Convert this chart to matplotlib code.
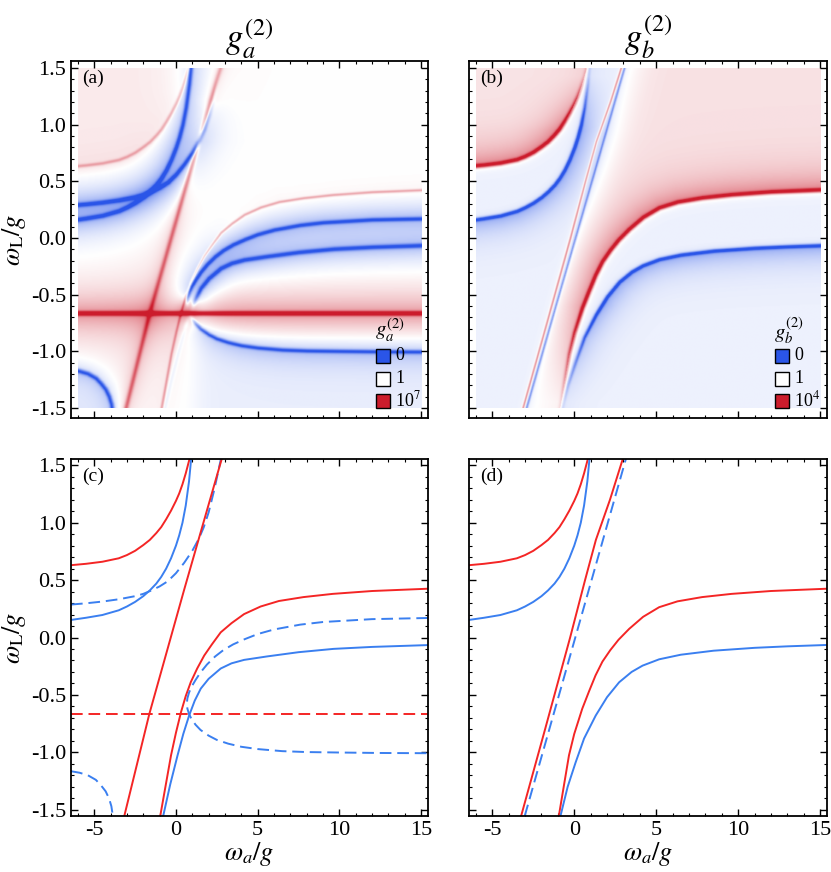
import numpy as np
import matplotlib
matplotlib.use('Agg')
import matplotlib.pyplot as plt
from matplotlib.colors import LinearSegmentedColormap
from matplotlib.patches import Rectangle
from matplotlib.ticker import MultipleLocator

plt.rcParams['font.family'] = ['Liberation Serif', 'DejaVu Serif']
plt.rcParams['mathtext.fontset'] = 'stix'

# ---- curves ----
red_ul_x = [-6.42, -5.5, -4.5, -3.5, -3.0, -2.5, -2.0, -1.6, -1.2, -0.9, -0.6, -0.3, 0.0, 0.2, 0.4, 0.6, 0.83]
red_ul_y = [0.630, 0.642, 0.660, 0.690, 0.718, 0.755, 0.805, 0.85, 0.91, 0.962, 1.03, 1.105, 1.19, 1.255, 1.335, 1.43, 1.555]

blue_ul_x = [-6.42, -5.5, -4.5, -3.5, -3.0, -2.5, -2.0, -1.6, -1.2, -0.9, -0.6, -0.3, 0.0, 0.2, 0.4, 0.6, 0.8, 0.93]
blue_ul_y = [0.153, 0.172, 0.196, 0.237, 0.27, 0.31, 0.36, 0.41, 0.47, 0.528, 0.6, 0.69, 0.80, 0.89, 1.0, 1.15, 1.36, 1.555]

bdash_ul_x = [-6.42, -5.5, -4.5, -3.5, -2.5, -2.0, -1.5, -1.0, -0.5, 0.0, 0.5, 1.0, 1.4, 1.7, 2.0, 2.35, 2.75]
bdash_ul_y = [0.287, 0.298, 0.313, 0.333, 0.36, 0.38, 0.41, 0.445, 0.49, 0.56, 0.65, 0.755, 0.86, 0.96, 1.09, 1.29, 1.555]

red_line_x = [-3.16, -1.63, 0.51, 2.80]
red_line_y = [-1.555, -0.667, 0.42, 1.555]

red_h_y = -0.667

red_lr_x = [-0.96, -0.63, -0.30, 0.0, 0.31, 0.6, 0.91, 1.3, 1.73, 2.2, 2.74, 3.4, 4.17, 5.18, 6.3, 7.8, 9.59, 12.0, 15.42]
red_lr_y = [-1.555, -1.29, -1.026, -0.83, -0.65, -0.51, -0.388, -0.27, -0.157, -0.06, 0.045, 0.125, 0.204, 0.27, 0.318, 0.352, 0.38, 0.405, 0.425]

blue_lr_x = [-0.78, -0.35, 0.10, 0.45, 0.81, 1.15, 1.52, 2.0, 2.74, 3.4, 4.17, 5.57, 7.5, 9.65, 12.0, 15.42]
blue_lr_y = [-1.555, -1.28, -1.026, -0.84, -0.678, -0.55, -0.445, -0.36, -0.27, -0.225, -0.195, -0.165, -0.128, -0.099, -0.082, -0.066]

# dashed blue branch on the right, upper part then lower part (cusp near 0.67, -0.57)
bdash_lr_x = [15.42, 12.0, 9.0, 7.6, 6.0, 5.0, 4.2, 3.5, 2.9, 2.4, 1.9, 1.5, 1.2, 0.95, 0.8, 0.7, 0.67,
              0.7, 0.8, 0.95, 1.2, 1.5, 2.0, 2.5, 3.2, 4.0, 5.0, 6.5, 8.0, 10.0, 12.5, 15.42]
bdash_lr_y = [0.17, 0.16, 0.135, 0.112, 0.07, 0.03, -0.015, -0.06, -0.11, -0.165, -0.235, -0.305, -0.37, -0.43, -0.48, -0.53, -0.57,
              -0.62, -0.665, -0.71, -0.76, -0.805, -0.855, -0.892, -0.925, -0.952, -0.972, -0.99, -0.998, -1.002, -1.006, -1.008]
cusp = 16

bdash_ll_x = [-6.42, -5.9, -5.39, -4.9, -4.59, -4.3, -4.09, -3.95, -3.86]
bdash_ll_y = [-1.165, -1.178, -1.2, -1.24, -1.287, -1.34, -1.403, -1.47, -1.555]

# ---- curves ----
red_line_d_x = [-3.24, -1.78, -0.25, 0.66, 1.32, 2.18, 2.96]
red_line_d_y = [-1.555, -0.8, 0.0, 0.5, 0.85, 1.2, 1.555]

bdash_d_x = [-3.02, 3.15]
bdash_d_y = [-1.555, 1.555]

red_lr_d_x = [-0.94, -0.63, -0.32, 0.0, 0.49, 0.9, 1.3, 1.72, 2.2, 2.7, 3.35, 4.2, 5.18, 6.3, 7.8, 9.6, 12.0, 15.42]
red_lr_d_y = [-1.555, -1.29, -1.026, -0.84, -0.62, -0.47, -0.33, -0.21, -0.11, -0.02, 0.075, 0.18, 0.264, 0.315, 0.352, 0.38, 0.405, 0.425]

blue_lr_d_x = [-0.84, -0.4, 0.08, 0.6, 1.31, 2.0, 2.74, 3.5, 4.17, 5.18, 6.5, 8.5, 11.0, 13.0, 15.42]
blue_lr_d_y = [-1.555, -1.3, -1.09, -0.88, -0.68, -0.52, -0.39, -0.3, -0.245, -0.19, -0.15, -0.115, -0.09, -0.077, -0.065]

# ---- grid for the density plots ----
wa = np.linspace(-6, 15, 631)
wl = np.linspace(-1.5, 1.5, 451)
WA, WL = np.meshgrid(wa, wl)


def dist(xs, ys):
    # distance to polyline, x scaled so that both axes look alike
    xs = np.asarray(xs) / 7.0
    ys = np.asarray(ys)
    px, py = WA / 7.0, WL
    d = np.full(WA.shape, np.inf)
    for i in range(len(xs) - 1):
        vx, vy = xs[i + 1] - xs[i], ys[i + 1] - ys[i]
        t = ((px - xs[i]) * vx + (py - ys[i]) * vy) / (vx * vx + vy * vy)
        t = np.clip(t, 0, 1)
        d = np.minimum(d, np.hypot(px - xs[i] - t * vx, py - ys[i] - t * vy))
    return d


def above(xs, ys):
    return WL > np.interp(WA, xs, ys)


def right_of(xs, ys):
    return WA > np.interp(WL, ys, xs)


def peak(d, w):
    return np.exp(-(d / w) ** 2)


def tail(d, w):
    return np.exp(-d / w)


def sig(z):
    return 1 / (1 + np.exp(-z))


# panel (a)
d_h = np.abs(WL - red_h_y)
d_rl = dist(red_line_x, red_line_y)
d_rul = dist(red_ul_x, red_ul_y)
d_rlr = dist(red_lr_x, red_lr_y)
d_bul = dist(blue_ul_x, blue_ul_y)
d_bdul = dist(bdash_ul_x, bdash_ul_y)
d_blr = dist(blue_lr_x, blue_lr_y)
d_bdlr = dist(bdash_lr_x, bdash_lr_y)
d_bdll = dist(bdash_ll_x, bdash_ll_y)
r_cusp = np.hypot((WA - bdash_lr_x[cusp]) / 7.0, WL - bdash_lr_y[cusp] + 0.08)

near_cusp = 1 - np.exp(-(r_cusp / 0.12) ** 2)
fade_blr = np.clip((WL + 0.85) / 0.3, 0.15, 1) * near_cusp
fade_bdul = np.clip((1.35 - WL) / 0.5, 0.25, 1)
below_low = (WL < np.interp(WA, bdash_lr_x[cusp:], bdash_lr_y[cusp:])) * sig((WA - 1.2) / 0.4)
below_ll = ~above(bdash_ll_x, bdash_ll_y) & (WA < -3.86)
pink_ul = sig((WL - np.interp(WA, red_ul_x, red_ul_y)) / 0.04) * (WA < 0.83)

field_a = (0.95 * peak(d_h, 0.02) + 0.5 * tail(d_h, 0.18)
           + 0.42 * peak(d_rl, 0.02) + 0.2 * tail(d_rl, 0.05) + 0.1 * tail(d_rl, 0.2)
           + 0.3 * peak(d_rul, 0.015) + 0.12 * tail(d_rul, 0.1) + 0.09 * pink_ul
           + 0.35 * peak(d_rlr, 0.012) + 0.1 * tail(d_rlr, 0.1)
           - 0.7 * peak(d_bul, 0.02) - 0.4 * tail(d_bul, 0.12)
           - fade_bdul * (0.7 * peak(d_bdul, 0.02) + 0.4 * tail(d_bdul, 0.12))
           - fade_blr * (0.7 * peak(d_blr, 0.02) + 0.4 * tail(d_blr, 0.12))
           - near_cusp * (0.7 * peak(d_bdlr, 0.018) + 0.4 * tail(d_bdlr, 0.12))
           - 0.1 * below_low
           - 0.7 * peak(d_bdll, 0.02) - 0.3 * tail(d_bdll, 0.08) - 0.15 * below_ll)
field_a = np.clip(field_a, -1, 1)

# panel (b)
e_rul = dist(red_ul_x, red_ul_y)
e_bul = dist(blue_ul_x, blue_ul_y)
e_rlr = dist(red_lr_d_x, red_lr_d_y)
e_blr = dist(blue_lr_d_x, blue_lr_d_y)
e_rl = dist(red_line_d_x, red_line_d_y)
e_bd = dist(bdash_d_x, bdash_d_y)

w_ul = np.clip((1.55 - WL) / 0.6, 0.2, 1)
w_lr = np.clip((WL + 1.6) / 1.0, 0.15, 1)
up_ul = above(red_ul_x, red_ul_y)
lo_ul = ~above(blue_ul_x, blue_ul_y)
side = sig((WA - np.interp(WL, bdash_d_y, bdash_d_x) - 1.0) / 0.5) * sig((WL + 0.4) / 0.2)
up_lr = above(red_lr_d_x, red_lr_d_y) & right_of(bdash_d_x, bdash_d_y)
lo_lr = ~above(blue_lr_d_x, blue_lr_d_y)

field_b = (w_ul * 0.9 * peak(e_rul, 0.018)
           + np.where(up_ul, w_ul * 0.45 * tail(e_rul, 0.15) + 0.12, w_ul * 0.3 * tail(e_rul, 0.025))
           - w_ul * 0.85 * peak(e_bul, 0.016)
           - np.where(lo_ul, w_ul * 0.45 * tail(e_bul, 0.12), w_ul * 0.3 * tail(e_bul, 0.02))
           + w_lr * 0.9 * peak(e_rlr, 0.018)
           + np.where(up_lr, w_lr * 0.45 * tail(e_rlr, 0.15) + 0.13 * side, w_lr * 0.3 * tail(e_rlr, 0.025))
           - w_lr * 0.85 * peak(e_blr, 0.016)
           - np.where(lo_lr, w_lr * 0.45 * tail(e_blr, 0.12), w_lr * 0.3 * tail(e_blr, 0.02))
           + 0.5 * peak(e_rl, 0.01) + 0.12 * tail(e_rl, 0.03)
           - 0.45 * peak(e_bd, 0.01) - 0.15 * tail(e_bd, 0.04)
           - 0.08 * (~up_ul & ~up_lr))
field_b = np.clip(field_b, -1, 1)

cmap = LinearSegmentedColormap.from_list('bwr_m', [(0, '#2a55e8'), (0.5, '#ffffff'), (1, '#cc1c2c')])

fig = plt.figure(figsize=(8.31, 8.72), dpi=100)
W, H = 831.0, 872.0
ax_a = fig.add_axes([71 / W, 1 - 418 / H, 357 / W, 357 / H])
ax_b = fig.add_axes([469 / W, 1 - 418 / H, 358 / W, 357 / H])
ax_c = fig.add_axes([71 / W, 1 - 816 / H, 357 / W, 357 / H])
ax_d = fig.add_axes([469 / W, 1 - 816 / H, 358 / W, 357 / H])

ax_a.imshow(field_a, extent=[-6, 15, -1.5, 1.5], origin='lower', aspect='auto',
            cmap=cmap, vmin=-1, vmax=1, interpolation='bilinear')
ax_b.imshow(field_b, extent=[-6, 15, -1.5, 1.5], origin='lower', aspect='auto',
            cmap=cmap, vmin=-1, vmax=1, interpolation='bilinear')

red = '#f42525'
blue = '#3a7ff0'
lw = 1.4
dash = (0, (6, 3))

ax_c.plot(red_ul_x, red_ul_y, color=red, lw=lw)
ax_c.plot(blue_ul_x, blue_ul_y, color=blue, lw=lw)
ax_c.plot(bdash_ul_x, bdash_ul_y, color=blue, lw=lw, linestyle=dash)
ax_c.plot(red_line_x, red_line_y, color=red, lw=lw)
ax_c.plot(red_lr_x, red_lr_y, color=red, lw=lw)
ax_c.plot(blue_lr_x, blue_lr_y, color=blue, lw=lw)
ax_c.plot(bdash_lr_x, bdash_lr_y, color=blue, lw=lw, linestyle=dash)
ax_c.plot(bdash_ll_x, bdash_ll_y, color=blue, lw=lw, linestyle=dash)
ax_c.axhline(red_h_y, color=red, lw=lw, linestyle=dash)

ax_d.plot(red_ul_x, red_ul_y, color=red, lw=lw)
ax_d.plot(blue_ul_x, blue_ul_y, color=blue, lw=lw)
ax_d.plot(bdash_d_x, bdash_d_y, color=blue, lw=lw, linestyle=dash)
ax_d.plot(red_line_d_x, red_line_d_y, color=red, lw=lw)
ax_d.plot(red_lr_d_x, red_lr_d_y, color=red, lw=lw)
ax_d.plot(blue_lr_d_x, blue_lr_d_y, color=blue, lw=lw)

ytl = ['-1.5', '-1.0', '-0.5', '0.0', '0.5', '1.0', '1.5']
xtl = ['-5', '0', '5', '10', '15']
for ax, lab in zip([ax_a, ax_b, ax_c, ax_d], ['(a)', '(b)', '(c)', '(d)']):
    ax.set_xlim(-6.42, 15.42)
    if ax in (ax_a, ax_b):
        ax.set_ylim(-1.588, 1.562)
    else:
        ax.set_ylim(-1.555, 1.555)
    ax.set_xticks([-5, 0, 5, 10, 15])
    ax.set_yticks([-1.5, -1.0, -0.5, 0.0, 0.5, 1.0, 1.5])
    ax.xaxis.set_minor_locator(MultipleLocator(1))
    ax.yaxis.set_minor_locator(MultipleLocator(0.1))
    ax.tick_params(which='both', direction='in', top=True, right=True, labelsize=16)
    ax.tick_params(which='major', length=5, width=1)
    ax.tick_params(which='minor', length=2.5, width=0.8)
    for s in ax.spines.values():
        s.set_linewidth(1.3)
    if ax in (ax_c, ax_d):
        ax.set_xticklabels(xtl)
        ax.set_xlabel(r'$\omega_a/g$', fontsize=19, labelpad=0)
    else:
        ax.set_xticklabels([])
    if ax in (ax_a, ax_c):
        ax.set_yticklabels(ytl)
        ax.set_ylabel(r'$\omega_{\mathrm{L}}/g$', fontsize=19, labelpad=2)
    else:
        ax.set_yticklabels([])
    ax.text(0.03, 0.975, lab, transform=ax.transAxes, fontsize=14, va='top', ha='left')

ax_a.set_title(r'$g_a^{(2)}$', fontsize=25, pad=6)
ax_b.set_title(r'$g_b^{(2)}$', fontsize=25, pad=6)

# colour key inside (a) and (b)
key_cols = ['#2a55e8', '#ffffff', '#cc1c2c']
key_bottoms = [0.154, 0.090, 0.028]
for ax, title, top in [(ax_a, r'$g_a^{(2)}$', '10$^7$'), (ax_b, r'$g_b^{(2)}$', '10$^4$')]:
    ax.text(0.895, 0.245, title, transform=ax.transAxes, fontsize=15, ha='center', va='center')
    for c, b, t in zip(key_cols, key_bottoms, ['0', '1', top]):
        ax.add_patch(Rectangle((0.855, b), 0.038, 0.04, transform=ax.transAxes,
                               facecolor=c, edgecolor='black', lw=1, zorder=5))
        ax.text(0.908, b + 0.02, t, transform=ax.transAxes, fontsize=13, ha='left', va='center')

fig.savefig('out.png', dpi=100)
